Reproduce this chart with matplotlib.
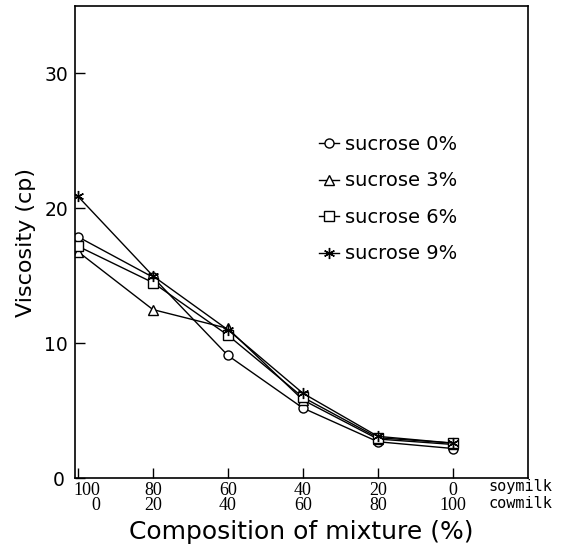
import numpy as np
import matplotlib
matplotlib.use('Agg')
import matplotlib.pyplot as plt
import matplotlib.transforms as mtransforms

# composition: soymilk % / cowmilk %
soymilk = [100, 80, 60, 40, 20, 0]
cowmilk = [0, 20, 40, 60, 80, 100]

suc0 = [17.9, 14.9, 9.1, 5.2, 2.7, 2.2]
suc3 = [16.8, 12.5, 11.1, 5.8, 2.9, 2.5]
suc6 = [17.2, 14.5, 10.6, 6.0, 3.0, 2.6]
suc9 = [20.9, 15.0, 11.0, 6.3, 3.1, 2.6]

labels = ['sucrose 0%', 'sucrose 3%', 'sucrose 6%', 'sucrose 9%']
markers = ['o', '^', 's', (6, 2, 0)]

fig = plt.figure(figsize=(5.67, 5.49), dpi=100)
ax = fig.add_axes([0.132, 0.129, 0.799, 0.860])

x = np.arange(len(soymilk))
for ys, lab, m in zip([suc0, suc3, suc6, suc9], labels, markers):
    ms = 8 if m == (6, 2, 0) else 6.5
    ax.plot(x, ys, color='black', lw=1.0, marker=m, ms=ms,
            mfc='white', mec='black', mew=1.0, label=lab)

ax.set_xlim(-0.04, 6.0)
ax.set_ylim(0, 35)

ax.set_yticks([0, 10, 20, 30])
ax.set_yticklabels(['0', '10', '20', '30'], fontsize=13.5, family='DejaVu Sans')
ax.set_xticks(x)
ax.set_xticklabels(['%d\n%d' % (s, c) for s, c in zip(soymilk, cowmilk)],
                   fontsize=13, family='Liberation Serif', linespacing=0.85)
ax.tick_params(direction='in', length=7, width=1)
ax.tick_params(axis='y', pad=5)
ax.tick_params(axis='x', pad=3)

# first composition label sits right of the axis corner
first = ax.get_xticklabels()[0]
first.set_ha('left')
first.set_multialignment('right')
first.set_transform(first.get_transform() +
                    mtransforms.ScaledTranslation(-4 / 100, 0, fig.dpi_scale_trans))
# the 0 of the y axis sits a bit left
zero = ax.get_yticklabels()[0]
zero.set_transform(zero.get_transform() +
                   mtransforms.ScaledTranslation(-3 / 100, 0, fig.dpi_scale_trans))

for sp in ax.spines.values():
    sp.set_linewidth(1.2)

ax.set_ylabel('Viscosity (cp)', fontsize=16, family='DejaVu Sans', labelpad=6)
ax.set_xlabel('Composition of mixture (%)', fontsize=18, family='DejaVu Sans', labelpad=4)

fig.text(0.862, 0.113, 'soymilk', fontsize=11, family='DejaVu Sans Mono', va='center')
fig.text(0.862, 0.082, 'cowmilk', fontsize=11, family='DejaVu Sans Mono', va='center')

ax.legend(loc='upper left', bbox_to_anchor=(0.54, 0.727), frameon=False,
          handlelength=1.0, handletextpad=0.3, labelspacing=0.9,
          borderaxespad=0, borderpad=0,
          prop={'family': 'DejaVu Sans', 'size': 14})

fig.savefig('out.png', dpi=100)
